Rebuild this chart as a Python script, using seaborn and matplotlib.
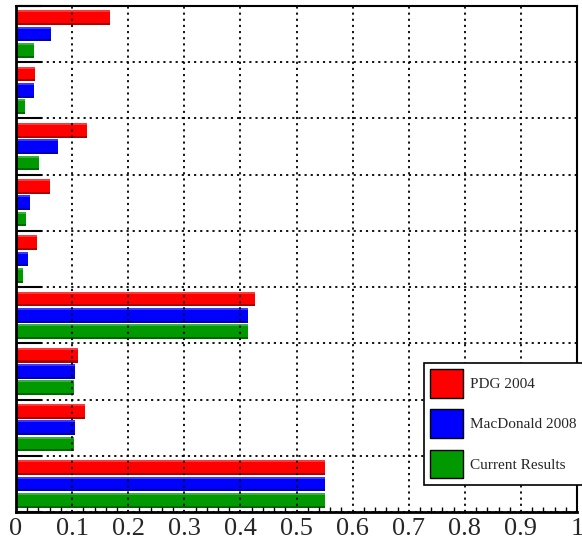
import numpy as np
import pandas as pd
import seaborn as sns
import matplotlib
matplotlib.use("Agg")
import matplotlib.pyplot as plt
from matplotlib.patches import Rectangle, Patch
from matplotlib.ticker import MultipleLocator, FuncFormatter
from matplotlib.colors import to_rgb

# Branching fractions per decay channel, top to bottom
channels = ["c1", "c2", "c3", "c4", "c5", "c6", "c7", "c8", "c9"]
pdg_2004 = [0.168, 0.034, 0.127, 0.061, 0.037, 0.426, 0.110, 0.123, 0.551]
macdonald_2008 = [0.062, 0.032, 0.075, 0.025, 0.021, 0.413, 0.105, 0.105, 0.551]
current_results = [0.032, 0.016, 0.041, 0.018, 0.012, 0.413, 0.103, 0.103, 0.551]
sources = ["PDG 2004", "MacDonald 2008", "Current Results"]
colors = ["#ff0000", "#0000ff", "#009900"]
x_ticks = [0, 0.1, 0.2, 0.3, 0.4, 0.5, 0.6, 0.7, 0.8, 0.9, 1.0]

df = pd.DataFrame({
    "channel": channels * 3,
    "source": np.repeat(sources, len(channels)),
    "value": pdg_2004 + macdonald_2008 + current_results,
})

sns.set_style("white")
plt.rcParams["font.family"] = ["Liberation Serif", "DejaVu Serif"]

fig = plt.figure(figsize=(5.82, 5.43), dpi=100)
ax = fig.add_axes([0.0275, 0.057, 0.964, 0.932])

sns.barplot(data=df, y="channel", x="value", hue="source", orient="h",
            palette=colors, width=0.87, gap=0.1, saturation=1,
            legend=False, ax=ax, errorbar=None, linewidth=0)

# bevel effect: light strip on top, dark strip on bottom of each bar
bars = [p for p in ax.patches if isinstance(p, Rectangle)]
for p in bars:
    x, y = p.get_x(), p.get_y()
    w, h = p.get_width(), p.get_height()
    base = np.array(to_rgb(p.get_facecolor()))
    light = base + (1 - base) * 0.22
    dark = base * 0.68
    ax.add_patch(Rectangle((x, y), w, h * 0.14, facecolor=light,
                           edgecolor="none", zorder=p.get_zorder() + 0.1))
    ax.add_patch(Rectangle((x, y + h * 0.86), w, h * 0.14, facecolor=dark,
                           edgecolor="none", zorder=p.get_zorder() + 0.1))

n = len(channels)
ax.set_xlim(0, 1)
ax.set_ylim(n - 0.5, -0.5)
ax.set_xlabel("")
ax.set_ylabel("")

ax.set_xticks(x_ticks)
ax.xaxis.set_minor_locator(MultipleLocator(0.02))
ax.xaxis.set_major_formatter(FuncFormatter(lambda v, _: f"{v:g}"))
ax.set_yticks(np.arange(n + 1) - 0.5)
ax.set_yticklabels([])

ax.tick_params(axis="x", which="major", direction="in", length=7.5,
               width=1.2, labelsize=19, pad=4, top=False, color="black")
ax.tick_params(axis="x", which="minor", direction="in", length=3.8,
               width=1.0, top=False, color="black", bottom=True)
ax.tick_params(axis="y", which="major", direction="in", length=19,
               width=1.5, left=True, right=False, color="black")

ax.grid(True, which="major", color="black", linestyle=(0, (1.2, 2.2)),
        linewidth=1.3)
ax.set_axisbelow(False)

for side, lw in [("left", 2.0), ("bottom", 2.0), ("top", 1.5), ("right", 1.5)]:
    ax.spines[side].set_visible(True)
    ax.spines[side].set_color("black")
    ax.spines[side].set_linewidth(lw)

handles = [Patch(facecolor=c, edgecolor="black", linewidth=1.0) for c in colors]
leg = fig.legend(handles, sources, loc="lower left",
                 bbox_to_anchor=(0.7285, 0.107, 0.275, 0.223), mode="expand",
                 fontsize=11, frameon=True, fancybox=False, framealpha=1,
                 edgecolor="black", handlelength=2.15, handleheight=2.5,
                 labelspacing=0.78, borderpad=0.42, handletextpad=0.42,
                 borderaxespad=0)
leg.get_frame().set_linewidth(1.2)
leg.set_zorder(10)

fig.savefig("out.png", dpi=100)
